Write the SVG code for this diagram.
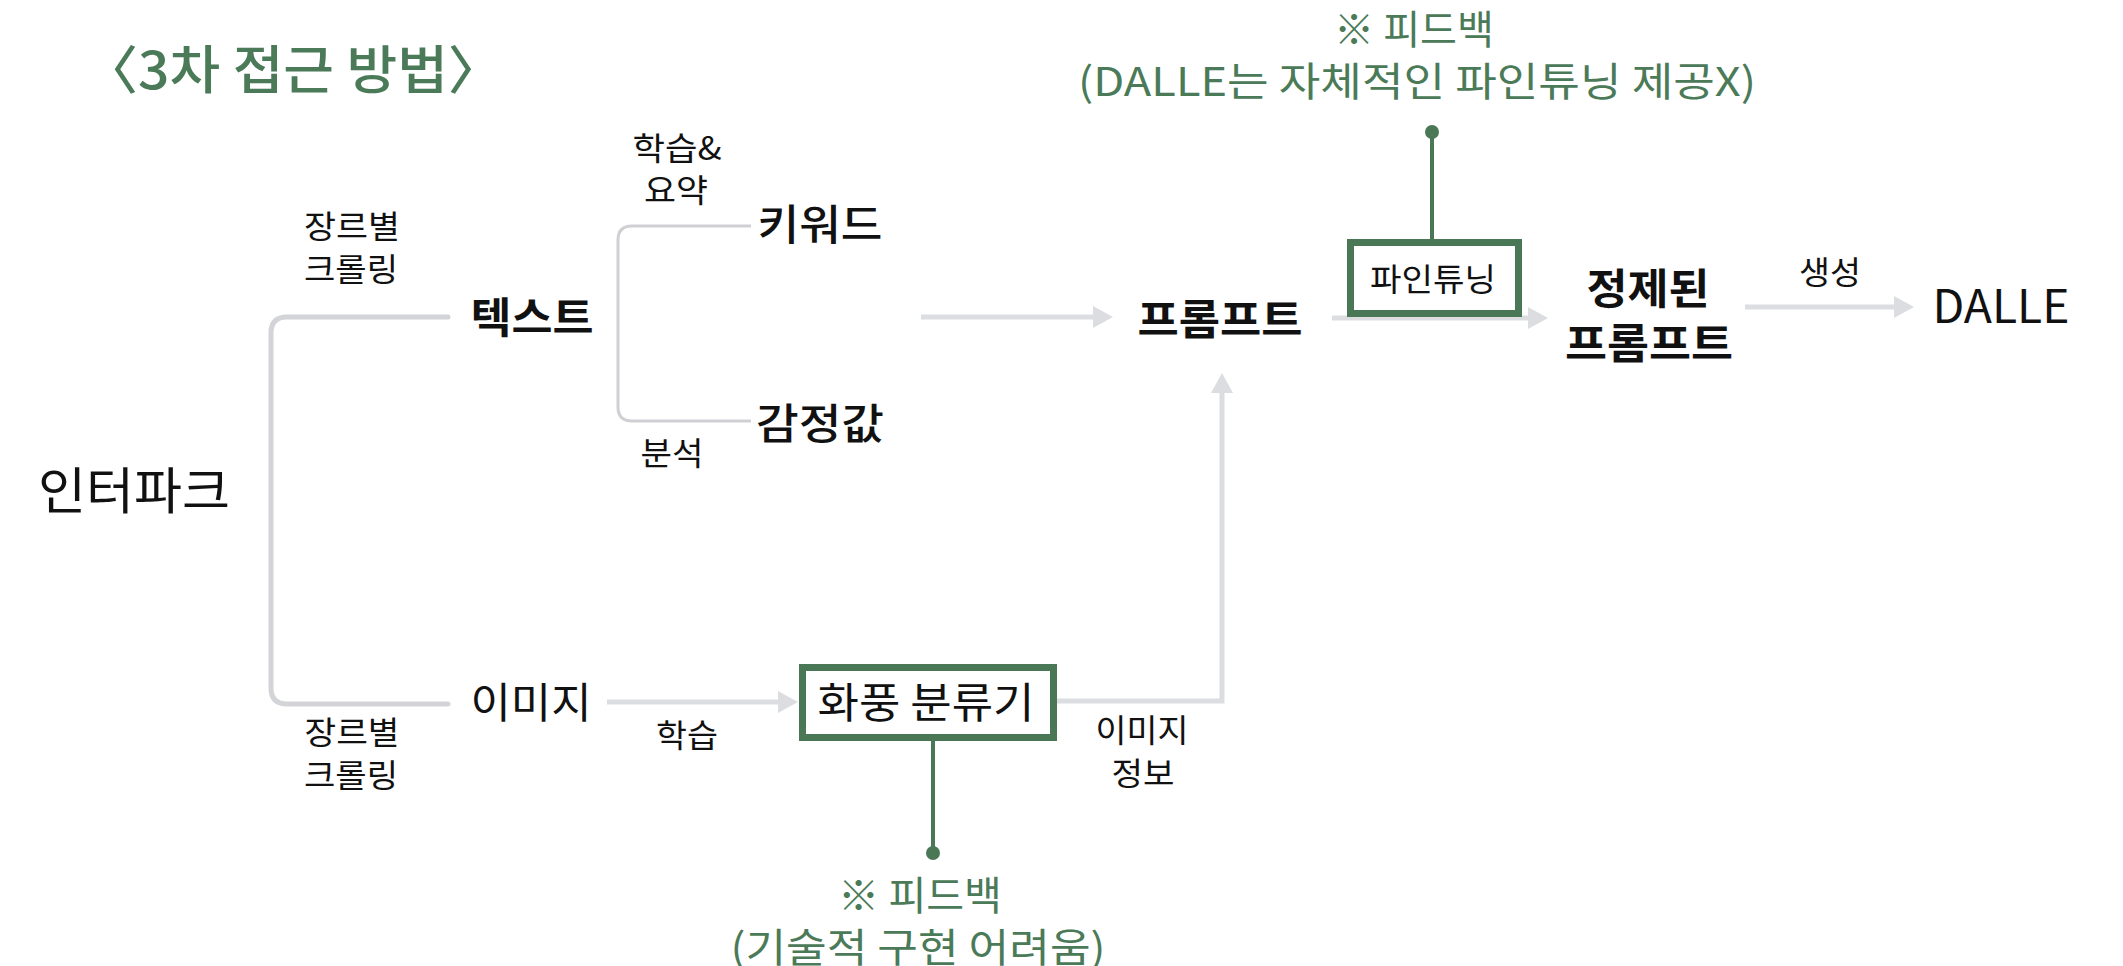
<svg xmlns="http://www.w3.org/2000/svg" width="2123" height="966" viewBox="0 0 2123 966">
<style>
text{font-family:"Noto Sans CJK KR","Noto Sans",sans-serif;fill:#111;text-anchor:middle}
.t{font-size:52px;font-weight:500;fill:#4b7a58}
.s{font-size:32px}
.m{font-size:42px}
.b{font-size:42px;font-weight:700}
.g{font-size:40px;fill:#4b7a58}
.br{fill:none;stroke:#d3d4d8;stroke-width:5;stroke-linecap:round}
.br2{fill:none;stroke:#cfd0d4;stroke-width:3}
.ar{fill:none;stroke:#dcdde0;stroke-width:5}
.gl{stroke:#4a7856;stroke-width:4;fill:none}
.box{fill:#fff;stroke:#4a7856;stroke-width:7}
</style>
<defs>
<marker id="ah" viewBox="0 0 20 22" refX="6" refY="11" markerWidth="20" markerHeight="22" markerUnits="userSpaceOnUse" orient="auto">
<path d="M0,0 L20,11 L0,22 z" fill="#dcdde0"/>
</marker>
</defs>
<rect width="2123" height="966" fill="#fff"/>
<g id="title"><text class="t" x="293" y="89" textLength="420" lengthAdjust="spacingAndGlyphs">〈3차 접근 방법〉</text></g>
<g id="connectors">
<path class="br" d="M448,317 H287 Q271,317 271,333 V688 Q271,704 287,704 H448"/>
<path class="br2" d="M751,226 H632 Q618,226 618,240 V407 Q618,421 632,421 H751"/>
<path class="ar" d="M921,317 H1099" marker-end="url(#ah)"/>
<path class="ar" d="M607,702 H784" marker-end="url(#ah)"/>
<path class="ar" d="M1057,701 H1222 V387" marker-end="url(#ah)"/>
<path class="ar" d="M1332,318 H1534" marker-end="url(#ah)"/>
<path class="ar" d="M1745,307 H1900" marker-end="url(#ah)"/>
<path class="gl" d="M933,741 V853"/>
<circle cx="933" cy="853" r="7" fill="#4a7856"/>
<path class="gl" d="M1432,239 V132"/>
<circle cx="1432" cy="132" r="7" fill="#4a7856"/>
</g>
<g id="label-crawl-top"><text class="s" x="352" y="238" textLength="96" lengthAdjust="spacingAndGlyphs">장르별</text><text class="s" x="351" y="281" textLength="94" lengthAdjust="spacingAndGlyphs">크롤링</text></g>
<g id="label-crawl-bottom"><text class="s" x="352" y="744" textLength="95" lengthAdjust="spacingAndGlyphs">장르별</text><text class="s" x="351" y="787" textLength="94" lengthAdjust="spacingAndGlyphs">크롤링</text></g>
<g id="label-learn-sum"><text class="s" x="677" y="160" textLength="89" lengthAdjust="spacingAndGlyphs">학습&amp;</text><text class="s" x="676" y="202" textLength="64" lengthAdjust="spacingAndGlyphs">요약</text></g>
<g id="label-analysis"><text class="s" x="672" y="465" textLength="63" lengthAdjust="spacingAndGlyphs">분석</text></g>
<g id="label-learn"><text class="s" x="687" y="747" textLength="62" lengthAdjust="spacingAndGlyphs">학습</text></g>
<g id="label-imginfo"><text class="s" x="1142" y="742" textLength="93" lengthAdjust="spacingAndGlyphs">이미지</text><text class="s" x="1143" y="785" textLength="63" lengthAdjust="spacingAndGlyphs">정보</text></g>
<g id="label-gen"><text class="s" x="1830" y="284" textLength="62" lengthAdjust="spacingAndGlyphs">생성</text></g>
<g id="node-interpark"><text x="134" y="509" style="font-size:50px" textLength="192" lengthAdjust="spacingAndGlyphs">인터파크</text></g>
<g id="node-text"><text class="b" x="532" y="333" textLength="123" lengthAdjust="spacingAndGlyphs">텍스트</text></g>
<g id="node-image"><text class="m" x="531" y="718" textLength="121" lengthAdjust="spacingAndGlyphs">이미지</text></g>
<g id="node-keyword"><text class="m" x="820" y="240" style="font-weight:500" textLength="125" lengthAdjust="spacingAndGlyphs">키워드</text></g>
<g id="node-emotion"><text class="m" x="820" y="439" style="font-weight:500" textLength="128" lengthAdjust="spacingAndGlyphs">감정값</text></g>
<g id="node-prompt"><text class="b" x="1220" y="335" textLength="165" lengthAdjust="spacingAndGlyphs">프롬프트</text></g>
<g id="node-finetune"><rect class="box" x="1350.5" y="242.5" width="168" height="71"/><text class="s" x="1433" y="291" textLength="126" lengthAdjust="spacingAndGlyphs">파인튜닝</text></g>
<g id="node-refined"><text class="b" x="1648" y="304" textLength="123" lengthAdjust="spacingAndGlyphs">정제된</text><text class="b" x="1649" y="359" textLength="168" lengthAdjust="spacingAndGlyphs">프롬프트</text></g>
<g id="node-dalle"><text x="2001" y="323" style="font-size:46px" textLength="137" lengthAdjust="spacingAndGlyphs">DALLE</text></g>
<g id="node-classifier"><rect class="box" x="802.5" y="667.5" width="251" height="70"/><text class="m" x="926" y="718" textLength="217" lengthAdjust="spacingAndGlyphs">화풍 분류기</text></g>
<g id="note-top"><text class="g" x="1414" y="44" textLength="160" lengthAdjust="spacingAndGlyphs">※ 피드백</text><text class="g" x="1417" y="96" textLength="678" lengthAdjust="spacingAndGlyphs">(DALLE는 자체적인 파인튜닝 제공X)</text></g>
<g id="note-bottom"><text class="g" x="920" y="910" textLength="164" lengthAdjust="spacingAndGlyphs">※ 피드백</text><text class="g" x="918" y="962" textLength="375" lengthAdjust="spacingAndGlyphs">(기술적 구현 어려움)</text></g>
</svg>
